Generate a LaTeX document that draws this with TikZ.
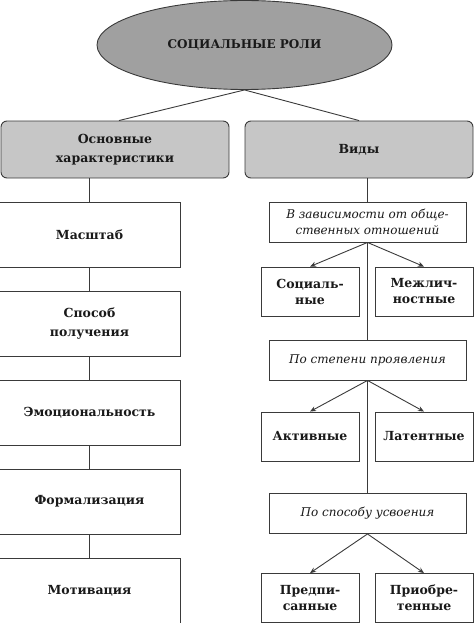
\documentclass[tikz,border=0pt]{standalone}
\usepackage{fontspec}
\setmainfont{DejaVu Serif}
\usetikzlibrary{shapes.geometric,arrows.meta,calc}
\definecolor{ellfill}{HTML}{A0A0A0}
\definecolor{boxfill}{HTML}{C6C6C6}
\definecolor{linec}{HTML}{3A3A3A}
\tikzset{
  every node/.style={text=black!90, align=center},
  conn/.style={draw=linec, line width=0.9pt},
  arr/.style={conn, -{Stealth[length=6pt,width=5pt]}},
  graybox/.style={draw=linec, line width=0.9pt, fill=boxfill, rounded corners=6pt, minimum width=228pt, minimum height=57pt, font=\bfseries\fontsize{12.5}{19}\selectfont},
  leftbox/.style={draw=linec, line width=0.9pt, fill=white, minimum width=181pt, minimum height=65pt, font=\bfseries\fontsize{12.5}{19}\selectfont},
  subhead/.style={draw=linec, line width=0.9pt, fill=white, minimum width=197pt, minimum height=40pt, font=\itshape\fontsize{12}{15.5}\selectfont},
  smallbox/.style={draw=linec, line width=0.9pt, fill=white, minimum width=98pt, minimum height=49pt, font=\bfseries\fontsize{12.5}{16}\selectfont},
}
\begin{document}
\begin{tikzpicture}[x=1pt,y=1pt]
\useasboundingbox (0,0) rectangle (474,-623);
\node[ellipse, draw=linec, line width=0.9pt, fill=ellfill, minimum width=295pt, minimum height=89pt, font=\bfseries\fontsize{12}{14}\selectfont] (ell) at (244.5,-45) {СОЦИАЛЬНЫЕ РОЛИ};
\node[graybox] (lg) at (115,-149.5) {Основные\\характеристики};
\node[graybox] (rg) at (359,-149.5) {Виды};
% left column
\node[leftbox] (m1) at (89.5,-234.5) {Масштаб};
\node[leftbox] (m2) at (89.5,-323.5) {Способ\\получения};
\node[leftbox] (m3) at (89.5,-412.5) {Эмоциональность};
\node[leftbox] (m4) at (89.5,-501.5) {Формализация};
\node[leftbox] (m5) at (89.5,-590.5) {Мотивация};
% right column
\node[subhead] (s1) at (367.5,-222) {В зависимости от обще-\\ственных отношений};
\node[subhead] (s2) at (367.5,-360) {По степени проявления};
\node[subhead] (s3) at (367.5,-513.5) {По способу усвоения};
\node[smallbox] (a1) at (310,-291.5) {Социаль-\\ные};
\node[smallbox] (a2) at (424,-291.5) {Межлич-\\ностные};
\node[smallbox] (b1) at (310,-436.5) {Активные};
\node[smallbox] (b2) at (424,-436.5) {Латентные};
\node[smallbox] (c1) at (310,-598) {Предпи-\\санные};
\node[smallbox] (c2) at (424,-598) {Приобре-\\тенные};
% connectors
\draw[conn] (ell.south) -- ($(lg.north)+(4,0)$);
\draw[conn] (ell.south) -- (rg.north);
\draw[conn] (m1.north |- lg.south) -- (m1.north);
\draw[conn] (m1.south) -- (m2.north);
\draw[conn] (m2.south) -- (m3.north);
\draw[conn] (m3.south) -- (m4.north);
\draw[conn] (m4.south) -- (m5.north);
\draw[conn] (s1.north |- rg.south) -- (s1.north);
\draw[conn] (s1.south) -- (s2.north);
\draw[conn] (s2.south) -- (s3.north);
\draw[arr] (s1.south) -- (a1.north);
\draw[arr] (s1.south) -- (a2.north);
\draw[arr] (s2.south) -- (b1.north);
\draw[arr] (s2.south) -- (b2.north);
\draw[arr] (s3.south) -- (c1.north);
\draw[arr] (s3.south) -- (c2.north);
\end{tikzpicture}
\end{document}
